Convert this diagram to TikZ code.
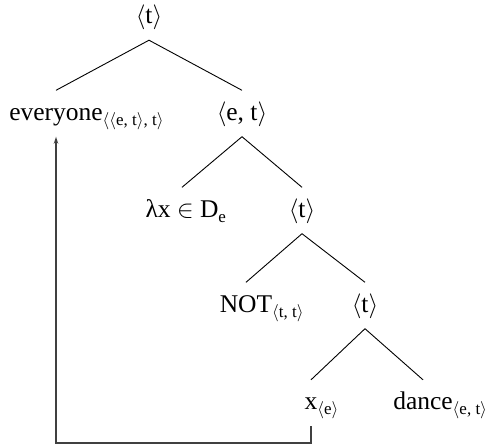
\documentclass[tikz,border=0pt]{standalone}
\usepackage{fontspec}
\setmainfont{Liberation Serif}
\usetikzlibrary{arrows.meta}
\newcommand{\tsub}[1]{\rlap{\raisebox{-5pt}{\fontsize{17}{17}\selectfont #1}}}
\newcommand{\la}{$\langle$}
\newcommand{\ra}{$\rangle$}
\begin{document}
\begin{tikzpicture}[x=1pt,y=-1pt,
  tn/.style={inner sep=0pt, minimum height=46pt, text height=13pt, text depth=0pt,
    font=\fontsize{25.5}{28}\selectfont},
  br/.style={line width=0.9pt, black},
  mv/.style={line width=1.2pt, black!75, -{Stealth[length=7pt,width=4.5pt]}}]
\useasboundingbox (0,0) rectangle (487,445);
\node[tn] (root) at (149,17) {\la t\ra};
\node[tn] (every) at (56,113.5) {everyone\tsub{\la\la e, t\ra, t\ra}};
\node[tn] (et) at (242,113.5) {\la e, t\ra};
\node[tn] (lam) at (182,210.5) {λx $\in$ D\tsub{e}};
\node[tn] (t2) at (302,210.5) {\la t\ra};
\node[tn] (not) at (246,305.5) {NOT\tsub{\la t, t\ra}};
\node[tn] (t3) at (365,305.5) {\la t\ra};
\node[tn] (x) at (311,403) {x\tsub{\la e\ra}};
\node[tn] (dance) at (423,403) {dance\tsub{\la e, t\ra}};
\coordinate (bot) at (0,443);
\draw[br] (every.north) -- (root.south) -- (et.north);
\draw[br] (lam.north) -- (et.south) -- (t2.north);
\draw[br] (not.north) -- (t2.south) -- (t3.north);
\draw[br] (x.north) -- (t3.south) -- (dance.north);
\draw[mv] (x.south) -- (x.south |- bot) -| (every.south);
\end{tikzpicture}
\end{document}
